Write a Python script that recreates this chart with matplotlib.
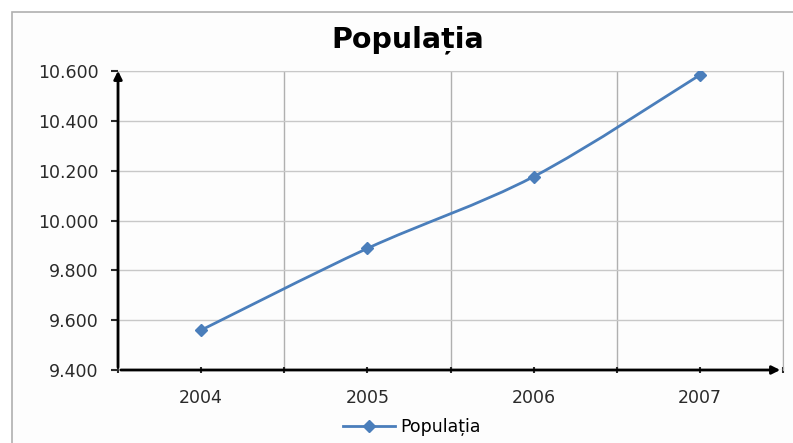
import matplotlib.pyplot as plt
from matplotlib.path import Path
from matplotlib.patches import PathPatch, Rectangle
import numpy as np

years = ["2004", "2005", "2006", "2007"]
population = [9560, 9888, 10176, 10584]
y_ticks = [9400, 9600, 9800, 10000, 10200, 10400, 10600]
y_labels = ["9.400", "9.600", "9.800", "10.000", "10.200", "10.400", "10.600"]

blue = "#4a7ebb"
plt.rcParams['font.family'] = ['DejaVu Sans']

fig = plt.figure(figsize=(7.93, 4.43), dpi=100)
fig.patch.set_facecolor("white")
# chart frame
fig.patches.append(Rectangle((12 / 793, -0.05), 1.0, 1 - 12 / 443 + 0.05,
                             transform=fig.transFigure, facecolor="#fdfdfd",
                             edgecolor="#b0b0b0", linewidth=1.2, zorder=-5))

ax = fig.add_axes([118 / 793, 73 / 443, (783 - 118) / 793, (370 - 71) / 443])
ax.set_facecolor("none")

x = np.arange(len(years))
y = np.array(population, dtype=float)

# smoothed line (Excel-style cardinal spline through the points)
verts = [(x[0], y[0])]
codes = [Path.MOVETO]
for i in range(len(x) - 1):
    p0 = (x[i - 1], y[i - 1]) if i > 0 else (x[i], y[i])
    p1 = (x[i], y[i])
    p2 = (x[i + 1], y[i + 1])
    p3 = (x[i + 2], y[i + 2]) if i + 2 < len(x) else (x[i + 1], y[i + 1])
    c1 = (p1[0] + (p2[0] - p0[0]) / 6, p1[1] + (p2[1] - p0[1]) / 6)
    c2 = (p2[0] - (p3[0] - p1[0]) / 6, p2[1] - (p3[1] - p1[1]) / 6)
    verts += [c1, c2, p2]
    codes += [Path.CURVE4] * 3
ax.add_patch(PathPatch(Path(verts, codes), facecolor="none", edgecolor=blue,
                       linewidth=2.0, zorder=3))
ax.plot(x, y, linestyle="none", marker="D", markersize=6.5, color=blue, zorder=4)

ax.set_xlim(-0.5, len(years) - 0.5)
ax.set_ylim(9400, 10600)
ax.set_xticks(x)
ax.set_xticklabels(years)
ax.set_xticks(np.arange(-0.5, len(years), 1.0), minor=True)
ax.set_yticks(y_ticks)
ax.set_yticklabels(y_labels)
ax.tick_params(axis="x", which="both", direction="inout", length=5, width=1.5,
               labelsize=12.5, colors="#2a2a2a", pad=11)
ax.tick_params(axis="y", direction="out", length=5, width=1.5, labelsize=12.5,
               pad=9, colors="#2a2a2a")

ax.grid(axis="y", color="#c8c8c8", linewidth=1)
ax.grid(axis="x", which="minor", color="#b0b0b0", linewidth=1)
ax.grid(axis="x", which="major", visible=False)
ax.spines["top"].set_color("#c8c8c8")
ax.spines["right"].set_color("#b0b0b0")
ax.spines["left"].set_visible(False)
ax.spines["bottom"].set_visible(False)

# axis arrows
ax.annotate("", xy=(0, 1.01), xytext=(0, 0), xycoords="axes fraction",
            arrowprops=dict(arrowstyle="-|>", color="black", lw=2, mutation_scale=12))
ax.annotate("", xy=(1.0, 0), xytext=(0, 0), xycoords="axes fraction",
            arrowprops=dict(arrowstyle="-|>", color="black", lw=2, mutation_scale=12))

fig.text(408 / 793, 1 - 40 / 443, "Populația", ha="center", va="center",
         fontsize=20.5, fontweight="bold")
ax.plot([], [], color=blue, marker="D", markersize=6.5, linewidth=2.0, label="Populația")
fig.legend(loc="center", bbox_to_anchor=(412 / 793, 1 - 427 / 443), frameon=False,
           fontsize=12.5, handlelength=3.0, handletextpad=0.3)

fig.savefig("out.png", dpi=100)
